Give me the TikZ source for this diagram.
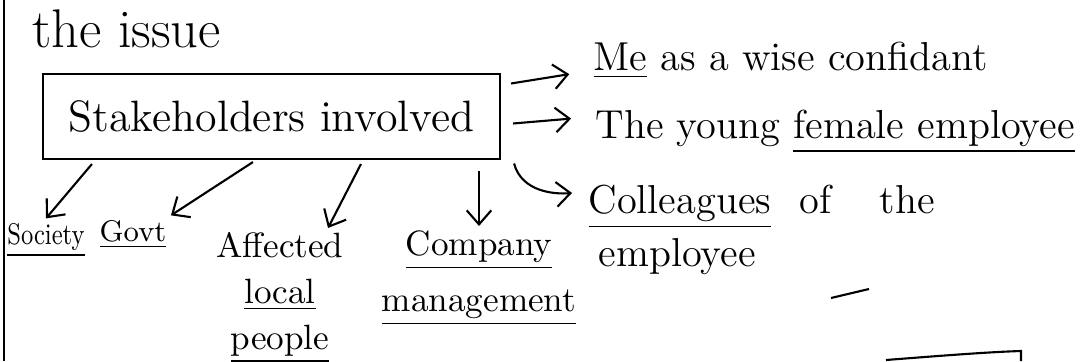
\documentclass[tikz,border=0pt]{standalone}
\usetikzlibrary{arrows.meta}
\begin{document}
\begin{tikzpicture}
\path[use as bounding box] (0,0) rectangle (10.83,-3.61);

\tikzstyle{every node}+=[inner sep=1pt]
\tikzstyle{every path}+=[semithick]
\tikzstyle{hand}=[font=\fontsize{11.5}{14}\selectfont]
\tikzstyle{lowhand}=[font=\fontsize{10}{13}\selectfont, align=center]
\tikzstyle{tinyhand}=[font=\fontsize{8.5}{10}\selectfont]
\tikzstyle{arr}=[-{Straight Barb[length=4pt,width=7pt]}]

% margin line
\draw (0.04,0) -- (0.04,-3.61);

\node[font=\fontsize{15.5}{18}\selectfont, anchor=base west] (issue) at (0.28,-0.48) {the issue};
\node[draw, minimum width=4.57cm, minimum height=0.85cm,
      font=\fontsize{12.5}{15}\selectfont] (sh) at (2.715,-1.165) {Stakeholders involved};

\node[hand, anchor=base west] (me) at (5.89,-0.71) {\underline{Me} as a wise confidant};
\node[hand, anchor=base west] (young) at (5.91,-1.38) {The young \underline{female employee}};
\node[hand, anchor=base west] (coll) at (5.84,-2.13) {\underline{Colleagues}\hspace{0.7em}of\hspace{1.2em}the};
\node[hand, anchor=base west] (emp) at (5.94,-2.66) {employee};

\node[tinyhand, anchor=base] (soc) at (0.46,-2.44) {\scalebox{0.8}[1]{\underline{Society}}};
\node[tinyhand, anchor=base] (govt) at (1.33,-2.41) {\underline{Govt}};
\node[lowhand, anchor=north] (aff) at (2.80,-2.28) {Affected\\\underline{local}\\\underline{people}};
\node[lowhand, anchor=north] (comp) at (4.79,-2.26) {\underline{Company}\\[3pt]\underline{management}};

\draw[arr, shorten >=0.2cm] ([xshift=0.10cm,yshift=0.33cm]sh.east) -- (me.base west);
\draw[arr, shorten >=0.2cm] ([xshift=0.12cm,yshift=-0.07cm]sh.east) -- ([yshift=6pt]young.base west);
\draw[arr, shorten >=0.12cm] ([xshift=0.13cm,yshift=-0.47cm]sh.east)
      to[out=-75,in=185] ([yshift=6pt]coll.base west);

\draw[arr] ([xshift=0.50cm,yshift=-0.04cm]sh.south west) -- (soc.north);
\draw[arr] ([xshift=2.11cm,yshift=-0.02cm]sh.south west) -- (govt.north east);
\draw[arr] ([xshift=3.19cm,yshift=-0.04cm]sh.south west) -- ([xshift=-0.2cm]aff.north east);
\draw[arr, shorten <=3pt] (sh.south -| comp.north) -- (comp.north);

% stray marks
\draw (8.31,-2.98) -- (8.69,-2.89);
\draw (8.86,-3.60) .. controls (9.5,-3.55) and (9.9,-3.52) .. (10.21,-3.51) -- (10.21,-3.61);
\end{tikzpicture}
\end{document}
